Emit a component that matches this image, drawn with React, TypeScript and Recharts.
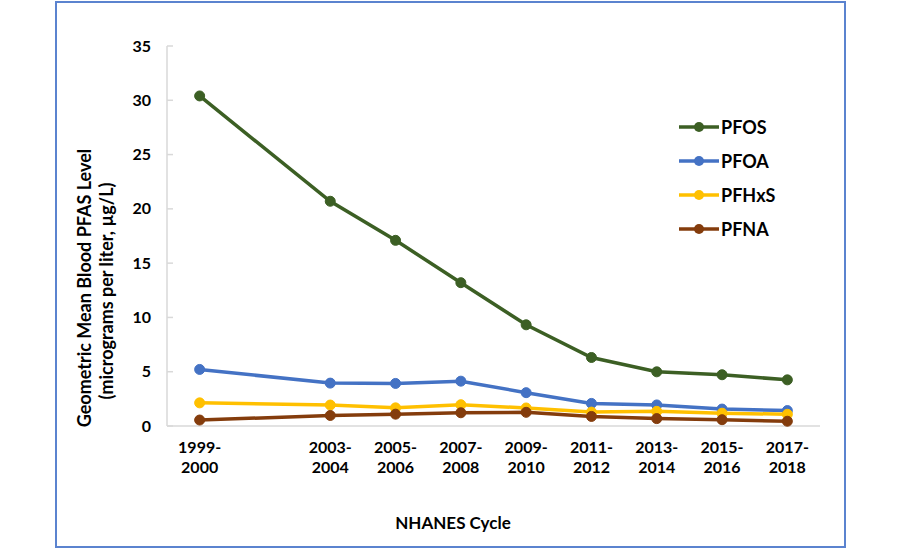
import React from "react";
import { LineChart, Line, XAxis, YAxis } from "recharts";

const cycles = ["1999-2000", "2003-2004", "2005-2006", "2007-2008", "2009-2010", "2011-2012", "2013-2014", "2015-2016", "2017-2018"];
const pfos = [30.4, 20.7, 17.1, 13.2, 9.32, 6.31, 4.99, 4.72, 4.25];
const pfoa = [5.21, 3.95, 3.92, 4.13, 3.07, 2.08, 1.94, 1.56, 1.42];
const pfhxs = [2.13, 1.93, 1.67, 1.96, 1.66, 1.28, 1.35, 1.18, 1.08];
const pfna = [0.55, 0.97, 1.09, 1.22, 1.26, 0.88, 0.68, 0.58, 0.44];
const yTicks = [0, 5, 10, 15, 20, 25, 30, 35];

const seriesList = [
  { key: "PFOS", values: pfos, color: "#3C5F24" },
  { key: "PFOA", values: pfoa, color: "#4472C4" },
  { key: "PFHxS", values: pfhxs, color: "#FFC000" },
  { key: "PFNA", values: pfna, color: "#843C0C" },
];

const startYears = cycles.map((c) => parseInt(c.split("-")[0], 10));
const data = cycles.map((c, i) => {
  const row: any = { year: startYears[i], label: c };
  seriesList.forEach((s) => (row[s.key] = s.values[i]));
  return row;
});

const FONT = "Lato, Carlito, Calibri, 'Open Sans', sans-serif";
const PLOT_LEFT = 167;
const PLOT_BOTTOM = 426;
const AXIS_COLOR = "#D9D9D9";

const XTick = (props: any) => {
  const { x, payload } = props;
  const idx = startYears.indexOf(payload.value);
  const parts = idx >= 0 ? cycles[idx].split("-") : ["", ""];
  return (
    <text x={x} y={PLOT_BOTTOM} textAnchor="middle" fontFamily={FONT} fontWeight="bold" fontSize={16} fill="#000">
      <tspan x={x} dy={27}>{parts[0] + "-"}</tspan>
      <tspan x={x} dy={20}>{parts[1]}</tspan>
    </text>
  );
};

const YTick = (props: any) => {
  const { y, payload } = props;
  return (
    <g>
      <line x1={PLOT_LEFT} x2={PLOT_LEFT + 6} y1={y} y2={y} stroke={AXIS_COLOR} strokeWidth={1.5} />
      <text x={151} y={y} dy={5.5} textAnchor="end" fontFamily={FONT} fontWeight="bold" fontSize={16} fill="#000">
        {payload.value}
      </text>
    </g>
  );
};

const YLabel = () => (
  <g>
    <text x={84} y={288} transform="rotate(-90 84 288)" textAnchor="middle" dominantBaseline="central" fontFamily={FONT} fontWeight="bold" fontSize={18} fill="#000">
      Geometric Mean Blood PFAS Level
    </text>
    <text x={106} y={291} transform="rotate(-90 106 291)" textAnchor="middle" dominantBaseline="central" fontFamily={FONT} fontWeight="bold" fontSize={18} fill="#000">
      (micrograms per liter, µg/L)
    </text>
  </g>
);

export default function App() {
  return (
    <div style={{ position: "absolute", left: 0, top: 0, width: 900, height: 550, background: "#fff", fontFamily: FONT }}>
      <div
        style={{
          position: "absolute",
          left: 55,
          top: 1,
          width: 791,
          height: 547,
          boxSizing: "border-box",
          border: "2px solid #5B83CF",
        }}
      />
      <div style={{ position: "absolute", left: 0, top: 0 }}>
        <LineChart width={900} height={550} data={data} margin={{ top: 46, right: 80, bottom: 74, left: 107 }}>
          <XAxis
            dataKey="year"
            type="number"
            domain={[1998, 2018]}
            ticks={startYears}
            tick={<XTick />}
            tickLine={false}
            axisLine={{ stroke: AXIS_COLOR, strokeWidth: 1.5 }}
            height={50}
            interval={0}
          />
          <YAxis
            type="number"
            domain={[0, 35]}
            ticks={yTicks}
            tick={<YTick />}
            tickLine={false}
            axisLine={{ stroke: AXIS_COLOR, strokeWidth: 1.5 }}
            width={60}
            interval={0}
            label={<YLabel />}
          />
          {seriesList.map((s) => (
            <Line
              key={s.key}
              dataKey={s.key}
              type="linear"
              stroke={s.color}
              strokeWidth={3.5}
              dot={{ r: 5, fill: s.color, stroke: s.color, strokeWidth: 1 }}
              isAnimationActive={false}
            />
          ))}
        </LineChart>
      </div>
      <div style={{ position: "absolute", left: 679, top: 110 }}>
        {seriesList.map((s) => (
          <div key={s.key} style={{ display: "flex", alignItems: "center", height: 34 }}>
            <svg width={40} height={12} style={{ display: "block" }}>
              <line x1={0} x2={40} y1={6} y2={6} stroke={s.color} strokeWidth={3.5} />
              <circle cx={20} cy={6} r={5} fill={s.color} />
            </svg>
            <span style={{ marginLeft: 2, fontWeight: "bold", fontSize: 18, color: "#000", lineHeight: "18px" }}>{s.key}</span>
          </div>
        ))}
      </div>
      <div
        style={{
          position: "absolute",
          left: 353,
          top: 513,
          width: 200,
          textAlign: "center",
          fontWeight: "bold",
          fontSize: 17,
          lineHeight: "20px",
          color: "#000",
        }}
      >
        NHANES Cycle
      </div>
    </div>
  );
}
